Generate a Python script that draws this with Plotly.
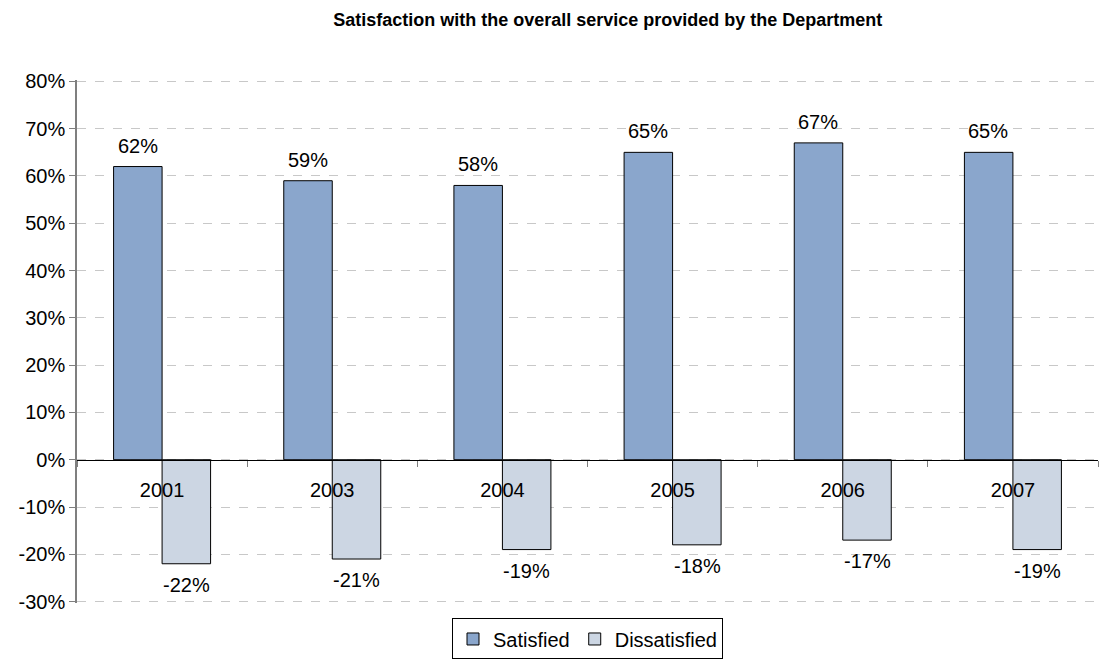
import plotly.graph_objects as go

years = ["2001", "2003", "2004", "2005", "2006", "2007"]
satisfied = [62, 59, 58, 65, 67, 65]
dissatisfied = [-22, -21, -19, -18, -17, -19]
y_ticks = [-30, -20, -10, 0, 10, 20, 30, 40, 50, 60, 70, 80]

FONT = "Liberation Sans, Arial, sans-serif"
Y_MIN, Y_MAX = -30, 80
PAD = 0.3  # small headroom so the end gridlines are drawn

fig = go.Figure()
fig.add_trace(go.Bar(
    x=years, y=satisfied, name="Satisfied",
    marker=dict(color="#8AA6CC", line=dict(color="#000000", width=1)),
))
fig.add_trace(go.Bar(
    x=years, y=dissatisfied, name="Dissatisfied",
    marker=dict(color="#CCD6E3", line=dict(color="#000000", width=1)),
))

# value labels above / below each bar (category axis -> use category index)
bar_px = 49
for i, v in enumerate(satisfied):
    fig.add_annotation(x=i, y=v, text=f"{v}%", showarrow=False, xref="x", yref="y",
                       xshift=-bar_px / 2, yanchor="bottom", yshift=8,
                       font=dict(family=FONT, size=20, color="#000000"))
for i, v in enumerate(dissatisfied):
    fig.add_annotation(x=i, y=v, text=f"{v}%", showarrow=False, xref="x", yref="y",
                       xshift=bar_px / 2, yanchor="top", yshift=-8,
                       font=dict(family=FONT, size=20, color="#000000"))

lo, hi = Y_MIN - PAD, Y_MAX + PAD
zero_pos = (0 - lo) / (hi - lo)

fig.update_layout(
    width=1099, height=661,
    margin=dict(l=77, r=1, t=80, b=58, autoexpand=False),
    paper_bgcolor="white", plot_bgcolor="white",
    barmode="group", bargap=0.43, bargroupgap=0,
    title=dict(text="<b>Satisfaction with the overall service provided by the Department</b>",
               x=0.553, xanchor="center", y=0.97, yanchor="middle",
               font=dict(family=FONT, size=18, color="#000000")),
    font=dict(family=FONT, size=20, color="#000000"),
    xaxis=dict(
        type="category", range=[-0.5, 5.5],
        anchor="free", position=zero_pos,
        showline=True, linecolor="#000000", linewidth=1,
        ticks="outside", ticklen=6, tickcolor="#7f7f7f", tickson="boundaries",
        ticklabelstandoff=12,
        showgrid=False, zeroline=False,
        tickfont=dict(family=FONT, size=20, color="#000000"),
    ),
    yaxis=dict(
        range=[lo, hi], tickvals=y_ticks,
        ticktext=[f"{t}%" for t in y_ticks],
        showline=True, linecolor="#7f7f7f", linewidth=1.5,
        ticks="outside", ticklen=6, tickcolor="#7f7f7f",
        showgrid=True, gridcolor="#c8c8c8", griddash="dash", gridwidth=1,
        zeroline=False,
        tickfont=dict(family=FONT, size=20, color="#000000"),
    ),
    legend=dict(
        orientation="h", x=0.5, xanchor="center",
        y=-0.108, yanchor="bottom",
        bordercolor="#000000", borderwidth=1,
        font=dict(family=FONT, size=20, color="#000000"),
        itemwidth=30, tracegroupgap=0,
    ),
    showlegend=True,
)

fig.write_html("out.html")
